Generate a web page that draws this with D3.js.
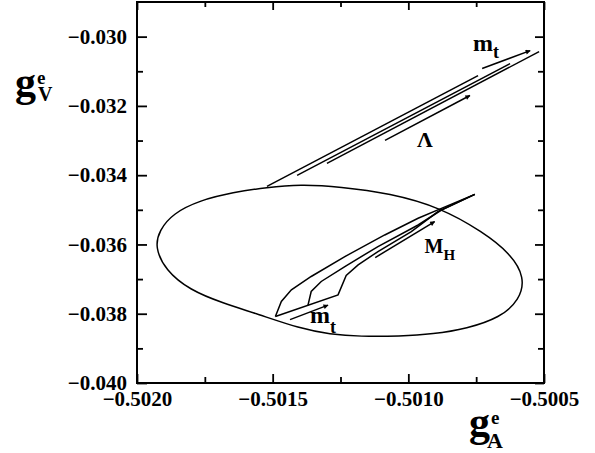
<!DOCTYPE html>
<html>
<head>
<meta charset="utf-8">
<script src="https://cdn.jsdelivr.net/npm/d3@7"></script>
<style>
  body { margin: 0; background: #fff; }
  svg { display: block; }
  text { font-family: "Liberation Serif", "Times New Roman", serif; font-weight: bold; fill: #000; }
  .axis line { stroke: #000; stroke-width: 1.8px; }
  .axis path { display: none; }
  .curve { fill: none; stroke: #000; stroke-width: 1.5px; }
</style>
</head>
<body>
<svg id="chart" width="595" height="453"></svg>
<script>
// axis ticks
var xMajor = [-0.5020, -0.5015, -0.5010, -0.5005],
    xMinor = [-0.50175, -0.50125, -0.50075],
    yMajor = [-0.040, -0.038, -0.036, -0.034, -0.032, -0.030],
    yMinor = [-0.039, -0.037, -0.035, -0.033, -0.031];

// error ellipse, traced round from its left end
var ellipse = [
  [-0.501934, -0.036081], [-0.501918, -0.035591], [-0.501867, -0.035101],
  [-0.501768, -0.034726], [-0.501646, -0.034496], [-0.501521, -0.034352],
  [-0.501399, -0.034270], [-0.501252, -0.034330], [-0.501067, -0.034524],
  [-0.500883, -0.034928], [-0.500725, -0.035640], [-0.500625, -0.036254],
  [-0.500570, -0.036945], [-0.500590, -0.037608], [-0.500662, -0.038110],
  [-0.500784, -0.038430], [-0.500909, -0.038590], [-0.501031, -0.038650],
  [-0.501178, -0.038660], [-0.501289, -0.038590], [-0.501399, -0.038430],
  [-0.501558, -0.038000], [-0.501683, -0.037695], [-0.501805, -0.037320],
  [-0.501895, -0.036744]
];

// upper band (Lambda scan), three lines
var lambdaA = [[-0.501521, -0.034323], [-0.500743, -0.031124]],
    lambdaB = [[-0.501410, -0.034006], [-0.500625, -0.030778]],
    lambdaC = [[-0.501300, -0.033660], [-0.500518, -0.030432]];

// lower band (M_H scan)
var higgsA = [
  [-0.501490, -0.038078], [-0.501468, -0.037646], [-0.501431, -0.037311],
  [-0.501358, -0.036925], [-0.501234, -0.036349], [-0.501087, -0.035726],
  [-0.500964, -0.035245], [-0.500878, -0.034957], [-0.500755, -0.034553]
];
var higgsB = [
  [-0.501490, -0.038078], [-0.501259, -0.037455], [-0.501229, -0.036896],
  [-0.501185, -0.036591], [-0.501112, -0.036205], [-0.500989, -0.035628],
  [-0.500891, -0.035052], [-0.500755, -0.034553]
];
var higgsC = [
  [-0.501370, -0.037761], [-0.501358, -0.037357], [-0.501321, -0.037069],
  [-0.501234, -0.036637], [-0.501112, -0.036061], [-0.500964, -0.035438],
  [-0.500878, -0.035006], [-0.500755, -0.034553]
];

// arrows showing the direction of each parameter
var arrows = [
  [[-0.500728, -0.030922], [-0.500551, -0.030403]],  // m_t, top
  [[-0.501086, -0.032997], [-0.500773, -0.031700]],  // Lambda
  [[-0.501122, -0.036378], [-0.500903, -0.035340]],  // M_H
  [[-0.501436, -0.038170], [-0.501296, -0.037752]]   // m_t, bottom
];

// labels: main text, subscript, position
var labels = [
  {main: "m", sub: "t", x: -0.500762, y: -0.030403, size: 24, subSize: 18, dy: 7},
  {main: "Λ", sub: "", x: -0.500968, y: -0.033199, size: 22, subSize: 0, dy: 0},
  {main: "M", sub: "H", x: -0.500940, y: -0.036254, size: 20, subSize: 15, dy: 7},
  {main: "m", sub: "t", x: -0.501362, y: -0.038271, size: 24, subSize: 18, dy: 10}
];

var svg = d3.select("#chart"),
    margin = {top: 2, right: 51, bottom: 70, left: 137},
    width = +svg.attr("width") - margin.left - margin.right,
    height = +svg.attr("height") - margin.top - margin.bottom;

var x = d3.scaleLinear().domain([-0.5020, -0.5005]).range([0, width]),
    y = d3.scaleLinear().domain([-0.040, -0.029]).range([height, 0]);

var g = svg.append("g")
    .attr("transform", "translate(" + margin.left + "," + margin.top + ")");

svg.append("defs").append("marker")
    .attr("id", "head")
    .attr("viewBox", "0 0 10 10")
    .attr("refX", 9).attr("refY", 5)
    .attr("markerWidth", 7).attr("markerHeight", 5)
    .attr("markerUnits", "userSpaceOnUse")
    .attr("orient", "auto")
  .append("path")
    .attr("d", "M0,0L10,5L0,10Z")
    .attr("fill", "#000");

// ticks, pointing inwards, on all four sides
function ticks(axis, major, minor, len, minorLen, pad, fmt, transform, labelled) {
  var a = g.append("g").attr("class", "axis").attr("transform", transform)
    .call(axis.tickValues(major).tickSizeInner(-len).tickSizeOuter(0)
      .tickPadding(pad).tickFormat(labelled ? fmt : ""));
  a.attr("font-family", null).attr("font-size", null);
  a.selectAll("text")
      .style("font-family", "'Liberation Serif', 'Times New Roman', serif")
      .style("font-weight", "bold")
      .style("font-size", "21px");
  g.append("g").attr("class", "axis").attr("transform", transform)
    .call(axis.tickValues(minor).tickSizeInner(-minorLen).tickSizeOuter(0).tickFormat(""));
}
var fx = d3.format(".4f"), fy = d3.format(".3f");
ticks(d3.axisBottom(x), xMajor, xMinor, 9, 6, 8, fx, "translate(0," + height + ")", true);
ticks(d3.axisTop(x), xMajor, xMinor, 8, 5, 0, fx, "translate(0,0)", false);
ticks(d3.axisLeft(y), yMajor, yMinor, 10, 6, 10, fy, "translate(0,0)", true);
ticks(d3.axisRight(y), yMajor, yMinor, 9, 6, 0, fy, "translate(" + width + ",0)", false);

g.append("rect")
    .attr("width", width).attr("height", height)
    .attr("fill", "none").attr("stroke", "#000").attr("stroke-width", 2);

var line = d3.line().x(function(d) { return x(d[0]); }).y(function(d) { return y(d[1]); });

g.append("path").datum(ellipse).attr("class", "curve")
    .attr("d", line.curve(d3.curveBasisClosed));

line.curve(d3.curveLinear);
[lambdaA, lambdaB, lambdaC, higgsA, higgsB, higgsC].forEach(function(d) {
  g.append("path").datum(d).attr("class", "curve").attr("d", line);
});

g.selectAll(".arrow").data(arrows).enter().append("path")
    .attr("class", "curve arrow")
    .attr("d", line)
    .attr("marker-end", "url(#head)");

var lab = g.selectAll(".lab").data(labels).enter().append("text")
    .attr("class", "lab")
    .attr("x", function(d) { return x(d.x); })
    .attr("y", function(d) { return y(d.y); })
    .style("font-size", function(d) { return d.size + "px"; });
lab.append("tspan").text(function(d) { return d.main; });
lab.append("tspan")
    .attr("dy", function(d) { return d.dy; })
    .style("font-size", function(d) { return d.subSize + "px"; })
    .text(function(d) { return d.sub; });

// axis titles: g with superscript e and a subscript
function title(px, py, sub, subX, subY, subSize) {
  svg.append("text").attr("x", px).attr("y", py).style("font-size", "42px").text("g");
  svg.append("text").attr("x", px + 22).attr("y", py - 12).style("font-size", "19px").text("e");
  svg.append("text").attr("x", subX).attr("y", subY).style("font-size", subSize + "px").text(sub);
}
title(15, 96, "V", 38, 101, 20);
title(469, 436, "A", 487, 448, 22);
</script>
</body>
</html>
